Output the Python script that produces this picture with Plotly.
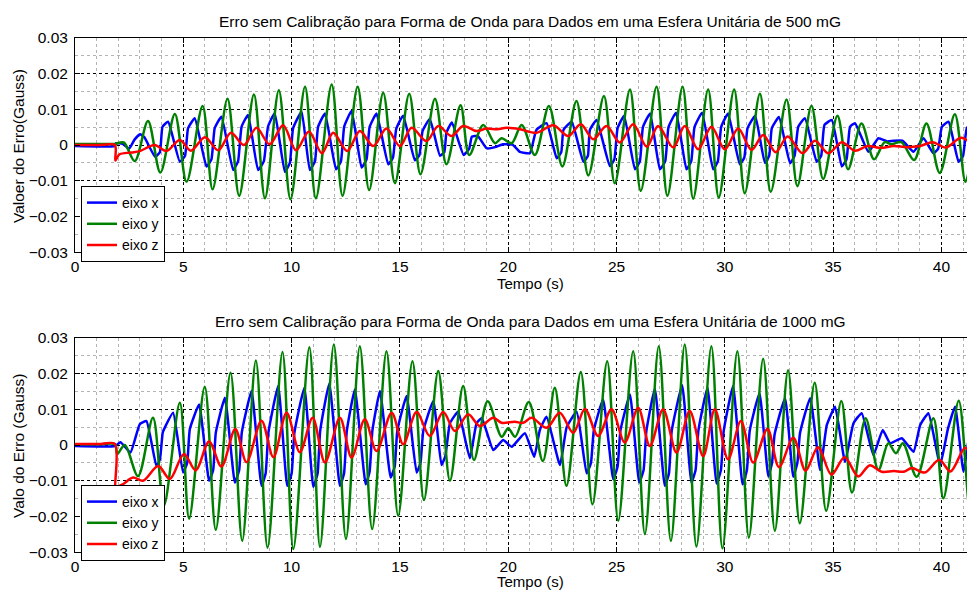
import plotly.graph_objects as go

# ---------------- data (Gauss vs seconds) ----------------
# Top panel: 500 mG
top_x_t = [0, 1.83, 1.9, 2.2, 2.5, 2.75, 3.0, 3.2, 3.7, 3.92, 4.04, 4.3, 4.84, 5.08, 5.22, 5.53,
           6.07, 6.3, 6.45, 6.76, 7.3, 7.53, 7.69, 7.99, 8.45, 8.72, 8.91, 9.22, 9.69, 9.92, 10.07, 10.46,
           10.84, 11.08, 11.22, 11.54, 12.05, 12.28, 12.43, 12.77, 13.23, 13.46, 13.6, 13.92,
           14.46, 14.68, 14.83, 15.15, 15.69, 15.9, 16.05, 16.38, 16.85, 17.05, 17.15, 17.4,
           17.94, 18.2, 18.32, 18.6, 19.0, 19.4, 19.75, 20.2, 20.54, 21.0, 21.3, 21.77,
           22.24, 22.45, 22.55, 22.93, 23.47, 23.68, 23.77, 24.08, 24.69, 24.9, 25.05, 25.35,
           25.85, 26.08, 26.22, 26.55, 27.0, 27.25, 27.4, 27.75, 28.23, 28.45, 28.6, 28.95,
           29.46, 29.68, 29.83, 30.15, 30.69, 30.9, 31.05, 31.4, 31.85, 32.05, 32.17, 32.5,
           33.01, 33.22, 33.39, 33.7, 34.24, 34.45, 34.6, 34.94, 35.4, 35.62, 35.78, 36.01,
           36.63, 37.09, 37.5, 37.8, 38.2, 38.71, 39.17, 39.63, 39.85, 40.02, 40.33, 40.79,
           41.0, 41.17, 41.57]
top_x_v = [-0.0003, -0.0003, 0.0005, 0.0003, -0.001, 0.0015, 0.003, 0.0022, -0.0033, -0.002, 0.0051, 0.0065,
           -0.0047, -0.003, 0.0047, 0.0075, -0.006, -0.004, 0.0047, 0.0079, -0.007, -0.0045, 0.0051, 0.0084,
           -0.007, -0.0045, 0.0051, 0.0089, -0.0075, -0.005, 0.0047, 0.0093, -0.007, -0.0045, 0.005, 0.0088,
           -0.0068, -0.0045, 0.0052, 0.0095, -0.0063, -0.004, 0.005, 0.0088, -0.0054, -0.0035, 0.0045, 0.0082,
           -0.0043, -0.0028, 0.004, 0.0073, -0.003, -0.002, 0.0035, 0.0063, -0.0028, -0.001, 0.0023, 0.0025,
           -0.0009, -0.0006, 0.0002, 0.0001, -0.0019, -0.0023, 0.0042, 0.0061, -0.0037, -0.002, 0.0042, 0.0065,
           -0.0047, -0.003, 0.0042, 0.007, -0.0059, -0.004, 0.0047, 0.0082, -0.0068, -0.0045, 0.005, 0.0088,
           -0.0068, -0.0045, 0.005, 0.009, -0.0068, -0.0045, 0.005, 0.009, -0.0068, -0.0045, 0.005, 0.0088,
           -0.0054, -0.0035, 0.0047, 0.0082, -0.005, -0.003, 0.0047, 0.0078, -0.0051, -0.003, 0.0051, 0.0075,
           -0.0047, -0.003, 0.0056, 0.007, -0.006, -0.004, 0.0051, 0.0061, -0.0019, 0.0019, 0.001, 0.0012,
           0.0012, -0.0019, 0.0019, -0.0023, -0.001, 0.0051, 0.0065, -0.0047, -0.003, 0.0047, 0.0075]

top_y_t = [0, 1.2, 1.83, 2.25, 2.76, 3.37, 3.94, 4.61, 5.15, 5.89, 6.35, 7.04, 7.58, 8.26, 8.77, 9.41, 9.95,
           10.62, 11.12, 11.85, 12.35, 13.05, 13.58, 14.23, 14.77, 15.43, 15.95, 16.62, 17.15, 17.8, 18.2,
           18.85, 19.39, 19.7, 20.16, 20.62, 21.23, 21.88, 22.5, 23.15, 23.7, 24.42, 24.92, 25.62, 26.12,
           26.85, 27.35, 28.05, 28.54, 29.23, 29.72, 30.43, 30.92, 31.62, 32.12, 32.85, 33.35, 34.0, 34.54,
           35.2, 35.69, 36.31, 36.89, 37.38, 37.69, 38.15, 38.74, 39.31, 39.92, 40.62, 41.11, 41.57]
top_y_v = [0.0003, 0.0003, 0.0003, 0.0007, -0.0045, 0.0067, -0.0077, 0.0087, -0.0103, 0.0109, -0.0124, 0.0129,
           -0.0142, 0.0141, -0.0149, 0.0153, -0.0152, 0.0163, -0.0149, 0.0169, -0.0142, 0.0163, -0.0126, 0.0146,
           -0.0107, 0.0143, -0.0082, 0.0129, -0.0054, 0.0111, -0.0028, 0.0056, 0.0005, 0.0019, 0.0005, 0.0056,
           -0.0028, 0.0109, -0.006, 0.0123, -0.0085, 0.0137, -0.0107, 0.0155, -0.0128, 0.0163, -0.0142, 0.0163,
           -0.015, 0.0155, -0.0147, 0.0155, -0.0135, 0.0143, -0.0131, 0.0127, -0.0115, 0.011, -0.0095, 0.0082,
           -0.0068, 0.006, -0.004, 0.0008, 0.0002, 0.0008, -0.0042, 0.006, -0.0078, 0.0086, -0.0103, 0.006]

top_z_t = [0, 1.2, 1.84, 1.86, 1.9, 2.06, 2.6, 2.99, 3.68, 4.22, 4.84, 5.35, 6.0, 6.61, 7.2, 7.8, 8.38, 8.98,
           9.61, 10.2, 10.8, 11.4, 11.92, 12.57, 13.15, 13.77, 14.38, 15.0, 15.54, 16.23, 16.77, 17.38,
           17.92, 18.54, 19.0, 19.5, 19.92, 20.54, 21.31, 22.08, 22.77, 23.35, 23.92, 24.54, 25.15, 25.77,
           26.4, 26.92, 27.62, 28.15, 28.77, 29.38, 30.0, 30.62, 31.23, 31.77, 32.35, 32.9, 33.58, 34.16,
           34.78, 35.4, 36.0, 36.6, 37.2, 37.8, 38.4, 39.0, 39.6, 40.2, 40.92, 41.57]
top_z_v = [0.0, 0.0, 0.0, -0.0043, -0.0040, -0.0026, -0.0021, -0.0017, 0.0, -0.0017, 0.0014, -0.0016, 0.0022,
           -0.0015, 0.0034, 0.0, 0.0048, 0.0002, 0.0055, -0.0015, 0.0038, -0.0023, 0.0034, -0.0017, 0.0039,
           -0.0003, 0.0046, -0.0003, 0.0048, 0.0011, 0.0053, 0.0025, 0.0053, 0.0039, 0.0046, 0.0044, 0.0048,
           0.0044, 0.0034, 0.0055, 0.0025, 0.0058, 0.0016, 0.0053, 0.0007, 0.0058, -0.0005, 0.0053, -0.0007,
           0.0053, -0.0012, 0.0051, -0.0012, 0.0046, -0.0014, 0.0028, -0.002, 0.0024, -0.0023, 0.0012, -0.0023,
           0.0008, -0.0016, -0.0003, -0.0008, -0.0003, -0.0006, -0.0003, 0.0008, -0.0007, 0.002, -0.0006]

# Bottom panel: 1000 mG
bot_x_t = [0, 1.85, 2.1, 2.56, 2.99, 3.3, 3.76, 3.92, 4.05, 4.14, 4.53, 4.99, 5.18, 5.3, 5.73,
           6.19, 6.38, 6.5, 6.92, 7.38, 7.58, 7.7, 8.15, 8.61, 8.8, 8.93, 9.38, 9.8, 10.0, 10.13, 10.59,
           11.0, 11.2, 11.32, 11.74, 12.23, 12.42, 12.55, 12.92, 13.42, 13.6, 13.73, 14.08,
           14.57, 14.76, 14.88, 15.31, 15.77, 15.95, 16.08, 16.54, 16.92, 17.1, 17.31, 17.69,
           18.23, 18.54, 18.78, 19.31, 19.77, 20.16, 20.77, 21.2, 21.46, 21.77, 22.39, 22.7, 23.16,
           23.62, 23.82, 23.95, 24.38, 24.85, 25.05, 25.18, 25.62, 26.05, 26.25, 26.38, 26.77,
           27.23, 27.42, 27.55, 28.03, 28.46, 28.65, 28.78, 29.2, 29.62, 29.82, 29.95, 30.38,
           30.82, 31.02, 31.15, 31.6, 32.01, 32.18, 32.3, 32.78, 33.16, 33.35, 33.47, 33.94,
           34.4, 34.71, 35.09, 35.55, 35.94, 36.32, 36.86, 37.29, 37.63, 38.17, 38.71, 39.02, 39.4,
           39.94, 40.3, 40.63, 41.02, 41.33, 41.57]
bot_x_v = [-0.0003, -0.0003, 0.0008, -0.0021, 0.0058, 0.0067, -0.0059, -0.004, 0.0035, 0.0048, 0.009,
           -0.0077, -0.005, 0.0044, 0.0113, -0.01, -0.007, 0.0034, 0.0132, -0.0105, -0.007, 0.0035, 0.0151,
           -0.0114, -0.008, 0.0035, 0.0165, -0.0114, -0.008, 0.0035, 0.016, -0.0117, -0.008, 0.004, 0.0172,
           -0.0114, -0.008, 0.004, 0.0155, -0.011, -0.0075, 0.004, 0.0151, -0.0091, -0.006, 0.004, 0.0137,
           -0.0077, -0.005, 0.004, 0.0123, -0.0056, -0.003, 0.0061, 0.0093, -0.0037, 0.0061, 0.0075,
           -0.0014, 0.0014, -0.0005, 0.0033, -0.0033, 0.0042, 0.0079, -0.0056, 0.005, 0.0093,
           -0.0079, -0.005, 0.004, 0.0127, -0.0096, -0.006, 0.004, 0.0141, -0.0105, -0.007, 0.004, 0.0157,
           -0.0114, -0.008, 0.004, 0.0167, -0.0105, -0.007, 0.004, 0.016, -0.0108, -0.007, 0.004, 0.0165,
           -0.011, -0.007, 0.004, 0.0145, -0.0088, -0.005, 0.003, 0.0131, -0.0089, -0.005, 0.0033, 0.0131,
           -0.007, 0.0056, 0.0107, -0.0047, 0.0061, 0.0089, -0.0028, 0.0042, 0.0005, 0.0019, -0.0019, 0.0056,
           0.0089, -0.0056, 0.0045, 0.0107, -0.0075, 0.0042, 0.007]

bot_y_t = [0, 1.2, 1.85, 1.95, 2.3, 2.91, 3.6, 4.1, 4.84, 5.27, 5.99, 6.5, 7.18, 7.72, 8.35, 8.89, 9.58,
           10.08, 10.82, 11.31, 11.95, 12.51, 13.15, 13.72, 14.38, 14.92, 15.58, 16.11, 16.77, 17.31,
           17.92, 18.42, 19.05, 19.7, 20.0, 20.32, 20.95, 21.6, 22.15, 22.69, 23.35, 23.89, 24.57, 25.08,
           25.77, 26.31, 26.95, 27.51, 28.15, 28.69, 29.38, 29.89, 30.58, 31.11, 31.77, 32.31, 32.92,
           33.46, 34.15, 34.68, 35.38, 35.87, 36.5, 37.09, 37.55, 37.9, 38.22, 38.86, 39.63, 40.09,
           40.8, 41.32, 41.57]
bot_y_v = [0.0002, 0.0002, 0.0002, -0.0025, 0.0, -0.0087, 0.0076, -0.017, 0.0118, -0.0206, 0.0163, -0.0237,
           0.0202, -0.0268, 0.0236, -0.0287, 0.026, -0.0291, 0.0273, -0.0285, 0.0281, -0.0263, 0.0276, -0.0235,
           0.0262, -0.0198, 0.0234, -0.0154, 0.0207, -0.01, 0.0165, -0.0042, 0.0122, 0.0023, 0.0047, 0.0023,
           0.012, -0.0045, 0.016, -0.0114, 0.0204, -0.0166, 0.0234, -0.0212, 0.0262, -0.0249, 0.0276, -0.0268,
           0.0281, -0.0284, 0.0276, -0.0289, 0.0262, -0.0259, 0.0241, -0.024, 0.0209, -0.0219, 0.0174, -0.0184,
           0.0123, -0.0133, 0.0075, -0.007, 0.0005, -0.0023, 0.0005, -0.0089, 0.0075, -0.0149, 0.0124, -0.019,
           0.0007]

bot_z_t = [0, 1.2, 1.84, 1.86, 1.9, 2.2, 2.68, 3.14, 3.84, 4.38, 5.03, 5.57, 6.19, 6.76, 7.4, 7.92, 8.61, 9.16,
           9.77, 10.38, 10.97, 11.54, 12.23, 12.77, 13.38, 13.92, 14.62, 15.15, 15.77, 16.38, 17.0, 17.54,
           18.15, 18.69, 19.31, 19.69, 20.3, 20.69, 21.08, 21.77, 22.38, 23.0, 23.54, 24.15, 24.77, 25.38,
           26.0, 26.54, 27.15, 27.77, 28.38, 29.0, 29.54, 30.15, 30.74, 31.31, 31.97, 32.5, 33.16, 33.73,
           34.3, 34.92, 35.53, 36.16, 36.68, 37.24, 37.8, 38.3, 38.63, 39.23, 39.9, 40.42, 41.1, 41.57]
bot_z_v = [0.0003, 0.0003, 0.0003, -0.012, -0.0118, -0.011, -0.0091, -0.01, -0.0059, -0.0095, -0.0025, -0.0071,
           0.001, -0.006, 0.0045, -0.0048, 0.0068, -0.0034, 0.009, -0.002, 0.0076, -0.0049, 0.0076, -0.0035,
           0.0072, -0.0017, 0.009, 0.0002, 0.0092, 0.0025, 0.0092, 0.0039, 0.0086, 0.0053, 0.0076, 0.0062,
           0.0065, 0.0062, 0.0076, 0.0048, 0.009, 0.0034, 0.0101, 0.0025, 0.01, 0.0007, 0.0104, -0.0003, 0.01,
           -0.0021, 0.0095, -0.0031, 0.01, -0.004, 0.0067, -0.0049, 0.0045, -0.0062, 0.002, -0.0072, -0.0006,
           -0.0083, -0.0034, -0.0088, -0.0057, -0.0075, -0.0073, -0.0074, -0.0064, -0.0077, -0.0041, -0.0074,
           -0.0008, -0.0067]

series_names = ["eixo x", "eixo y", "eixo z"]
series_colors = ["#0000FF", "#008000", "#FF0000"]

titles = ["Erro sem Calibração para Forma de Onda para Dados em uma Esfera Unitária de 500 mG",
          "Erro sem Calibração para Forma de Onda para Dados em uma Esfera Unitária de 1000 mG"]
ylabels = ["Valoer do Erro(Gauss)", "Valo do Erro (Gauss)"]
xlabel = "Tempo (s)"

FONT = "Liberation Sans, Arial, Helvetica, sans-serif"
FS = 15.5
OFF = 8                      # page body margin in the browser
W, H = 975 - OFF, 590 - OFF
LEFT = 75 - OFF

fig = go.Figure()

panels = [
    (("x", "y", "legend"), [(top_x_t, top_x_v), (top_y_t, top_y_v), (top_z_t, top_z_v)]),
    (("x2", "y2", "legend2"), [(bot_x_t, bot_x_v), (bot_y_t, bot_y_v), (bot_z_t, bot_z_v)]),
]
for (xa, ya, lg), data in panels:
    for i, (t, v) in enumerate(data):
        fig.add_trace(go.Scatter(
            x=t, y=v, mode="lines", name=series_names[i], xaxis=xa, yaxis=ya, legend=lg,
            line=dict(color=series_colors[i], width=2.5, shape="spline",
                      smoothing=0.4 if i == 0 else 0.9)))


def px_y(py):
    return 1 - (py - OFF) / H


def px_x(px):
    return (px - OFF - LEFT) / (W - LEFT)


xax = dict(range=[0, 41.55], tick0=0, dtick=5, ticks="inside", ticklen=5, tickcolor="black",
           showline=True, linecolor="black", linewidth=1, mirror="ticks",
           showgrid=True, gridcolor="black", griddash="dot", gridwidth=1, zeroline=False,
           minor=dict(dtick=1, showgrid=True, gridcolor="#b4b4b4", griddash="dot", gridwidth=1, ticks=""),
           tickfont=dict(family=FONT, size=FS, color="black"), ticklabelstandoff=0)
yax = dict(range=[-0.03, 0.03], tick0=0, dtick=0.01, ticks="inside", ticklen=5, tickcolor="black",
           showline=True, linecolor="black", linewidth=1, mirror=False,
           showgrid=True, gridcolor="black", griddash="dot", gridwidth=1, zeroline=False,
           minor=dict(dtick=0.005, showgrid=True, gridcolor="#b4b4b4", griddash="dot", gridwidth=1, ticks=""),
           tickfont=dict(family=FONT, size=FS, color="black"), ticklabelstandoff=3)

top_dom = [px_y(252.3), px_y(37.7)]
bot_dom = [px_y(552.3), px_y(337.7)]

leg = dict(xanchor="left", yanchor="top", bgcolor="white", bordercolor="black", borderwidth=1,
           font=dict(family=FONT, size=14, color="black"), tracegroupgap=0, itemwidth=30)

fig.update_layout(
    width=W, height=H, margin=dict(l=LEFT, r=0, t=0, b=0, autoexpand=False),
    plot_bgcolor="white", paper_bgcolor="white",
    font=dict(family=FONT, size=FS, color="black"),
    xaxis=dict(xax, anchor="y", domain=[0, 1]),
    yaxis=dict(yax, anchor="x", domain=top_dom),
    xaxis2=dict(xax, anchor="y2", domain=[0, 1]),
    yaxis2=dict(yax, anchor="x2", domain=bot_dom),
    legend=dict(leg, x=px_x(81), y=px_y(186)),
    legend2=dict(leg, x=px_x(81), y=px_y(485)),
    showlegend=True,
)

ann = []
for k, (tcy, xcy, ycy) in enumerate([(21, 283, 146), (321, 581, 446)]):
    ann.append(dict(text=titles[k], x=px_x(530), y=px_y(tcy), xref="paper", yref="paper",
                    xanchor="center", yanchor="middle", showarrow=False,
                    font=dict(family=FONT, size=FS, color="black")))
    ann.append(dict(text=xlabel, x=px_x(530), y=px_y(xcy), xref="paper", yref="paper",
                    xanchor="center", yanchor="middle", showarrow=False,
                    font=dict(family=FONT, size=15, color="black")))
    ann.append(dict(text=ylabels[k], x=px_x(18), y=px_y(ycy), xref="paper", yref="paper",
                    xanchor="center", yanchor="middle", showarrow=False, textangle=-90,
                    font=dict(family=FONT, size=FS, color="black")))
fig.update_layout(annotations=ann)

fig.write_html("out.html")
